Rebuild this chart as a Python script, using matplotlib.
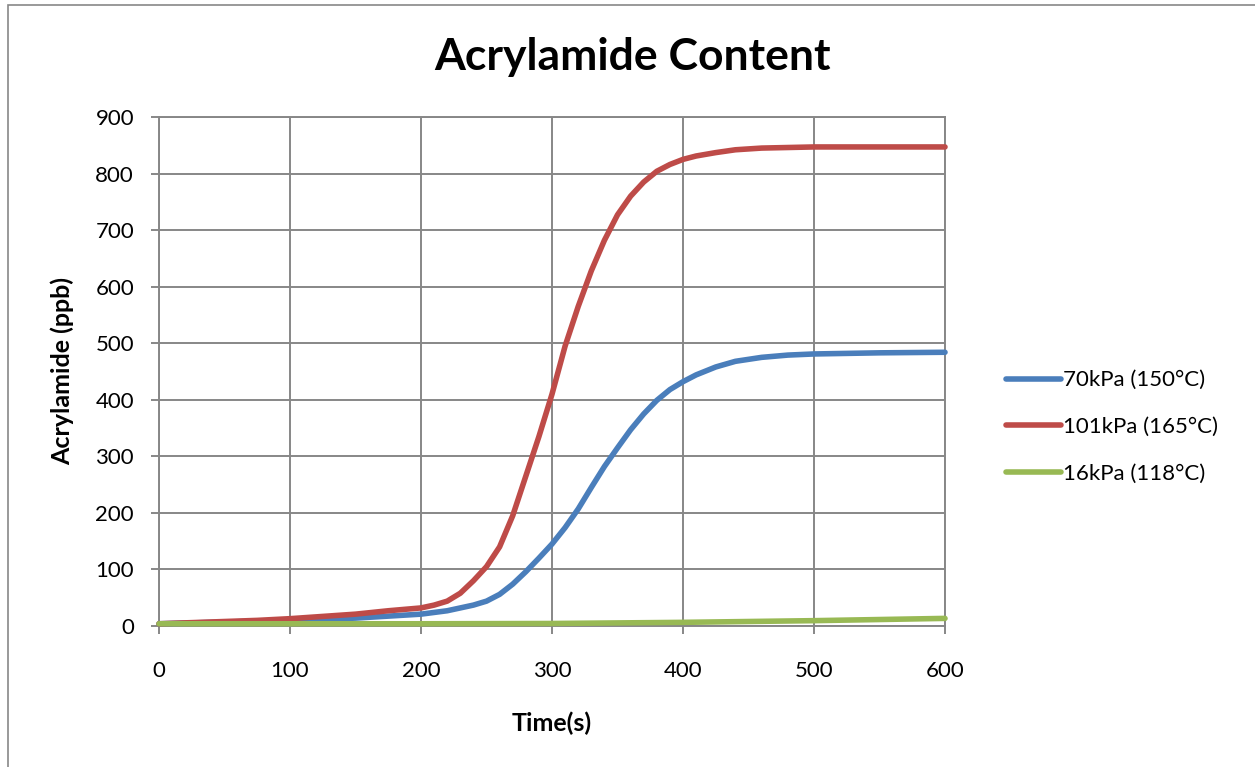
"""Acrylamide content over frying time at three pressures."""
import matplotlib

matplotlib.use("Agg")
import matplotlib.pyplot as plt
from matplotlib.patches import Rectangle

plt.rcParams["font.family"] = ["Lato", "DejaVu Sans"]

# time (s) and acrylamide (ppb) for each pressure
t_70 = [0, 50, 100, 150, 200, 220, 240, 250, 260, 270, 280, 290, 300, 310, 320,
        330, 340, 350, 360, 370, 380, 390, 400, 410, 425, 440, 460, 480, 500, 550, 600]
ppb_70 = [4, 7, 10, 14, 21, 27, 37, 44, 56, 74, 96, 120, 145, 174, 207,
          245, 282, 315, 347, 375, 399, 418, 432, 444, 458, 468, 475, 479, 481, 483, 484]

t_101 = [0, 25, 50, 75, 100, 125, 150, 175, 200, 210, 220, 230, 240, 250, 260, 270,
         280, 290, 300, 310, 320, 330, 340, 350, 360, 370, 380, 390, 400, 410, 425,
         440, 460, 480, 500, 550, 600]
ppb_101 = [4, 6, 8, 10, 13, 17, 21, 27, 32, 37, 44, 58, 80, 105, 140, 195,
           265, 335, 410, 495, 565, 628, 682, 727, 760, 785, 804, 816, 825, 831, 837,
           842, 845, 846, 847, 847, 847]

t_16 = [0, 100, 200, 300, 400, 500, 600]
ppb_16 = [4, 4, 4, 4.5, 6.5, 9.5, 13.5]

series = [
    ("70kPa (150°C)", t_70, ppb_70, "#4a7ebb"),
    ("101kPa (165°C)", t_101, ppb_101, "#be4b48"),
    ("16kPa (118°C)", t_16, ppb_16, "#98b954"),
]

grid_c = "#878787"

fig = plt.figure(figsize=(12.55, 7.67), dpi=100)
ax = fig.add_axes([0.1267, 0.1838, 0.6263, 0.6637])

for label, t, v, c in series:
    ax.plot(t, v, color=c, lw=4.0, label=label, solid_capstyle="round",
            solid_joinstyle="round", clip_on=False, zorder=3)

ax.set_xlim(0, 600)
ax.set_ylim(0, 900)
ax.set_xticks(range(0, 601, 100))
ax.set_yticks(range(0, 901, 100))
ax.grid(True, color=grid_c, lw=1.4)
ax.set_axisbelow(True)
for s in ax.spines.values():
    s.set_color(grid_c)
    s.set_linewidth(1.4)
ax.tick_params(axis="both", colors=grid_c, labelcolor="black", length=6,
               width=1.4, labelsize=16)
ax.tick_params(axis="y", pad=12)
ax.tick_params(axis="x", pad=19)

fig.text(0.5036, 0.9257, "Acrylamide Content", fontsize=32, fontweight="bold",
         ha="center", va="center")
ax.set_xlabel("Time(s)", fontsize=18, fontweight="bold", labelpad=22)
ax.set_ylabel("Acrylamide (ppb)", fontsize=18, fontweight="bold", labelpad=15)

ax.legend(loc="center left", bbox_to_anchor=(1.052, 0.391), frameon=False,
          fontsize=16, handlelength=2.5, handletextpad=0.05, labelspacing=1.2)

# outer chart border, running off the right and bottom edges
fig.add_artist(Rectangle((8 / 1255, -0.1), 1.2, 1.1 - 5.5 / 767,
                         transform=fig.transFigure, fill=False,
                         edgecolor=grid_c, lw=1.2))

fig.savefig("out.png", dpi=100)
